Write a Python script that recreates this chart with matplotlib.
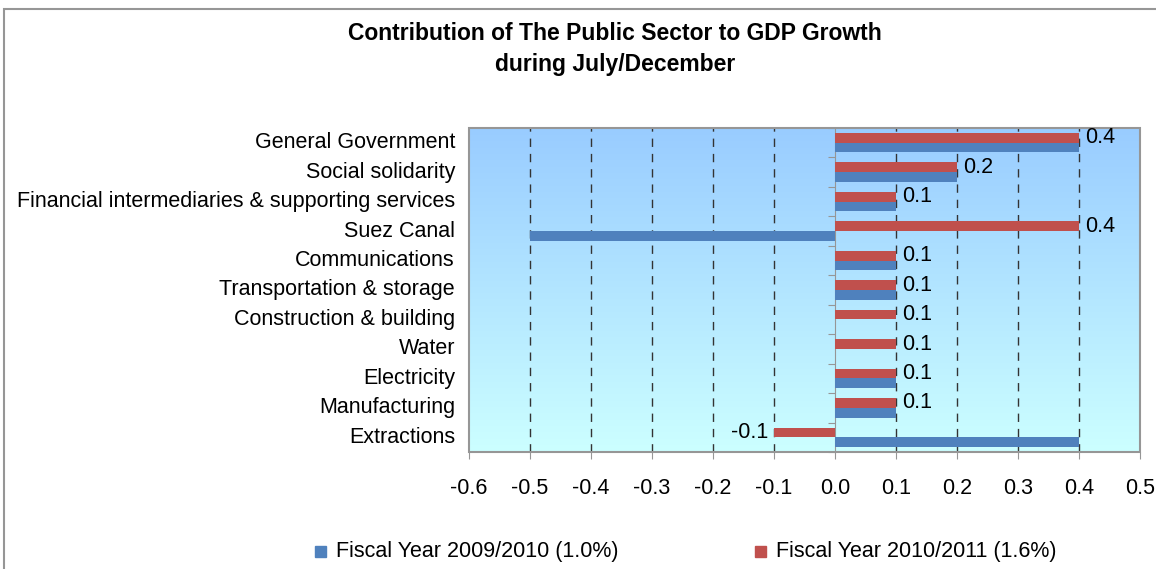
import numpy as np
import matplotlib.pyplot as plt
from matplotlib.patches import Rectangle
from matplotlib.transforms import blended_transform_factory
from matplotlib.colors import LinearSegmentedColormap

plt.rcParams['font.family'] = ['Liberation Sans', 'DejaVu Sans']

# sectors, top to bottom
sectors = ["General Government", "Social solidarity",
           "Financial intermediaries & supporting services", "Suez Canal",
           "Communications", "Transportation & storage", "Construction & building",
           "Water", "Electricity", "Manufacturing", "Extractions"]
fy_2009 = [0.4, 0.2, 0.1, -0.5, 0.1, 0.1, 0.0, 0.0, 0.1, 0.1, 0.4]
fy_2010 = [0.4, 0.2, 0.1, 0.4, 0.1, 0.1, 0.1, 0.1, 0.1, 0.1, -0.1]
x_ticks = [-0.6, -0.5, -0.4, -0.3, -0.2, -0.1, 0.0, 0.1, 0.2, 0.3, 0.4, 0.5]

BLUE = '#4F81BD'
RED = '#C0504D'
GRAY = '#969696'
FS = 15.5

fig = plt.figure(figsize=(11.56, 5.69), dpi=100)
ax = fig.add_axes([469 / 1156, 1 - 452 / 569, 671 / 1156, 324 / 569])

# outer chart frame (runs off the right and bottom edge)
fig.patches.append(Rectangle((4 / 1156, -0.1), 1.2, 1 - 9 / 569 + 0.1,
                             transform=fig.transFigure, fill=False,
                             edgecolor=GRAY, linewidth=1.5))

# gradient fill of the plot area
cmap = LinearSegmentedColormap.from_list('bg', ['#99CCFF', '#CCFFFF'])
grad = np.linspace(0, 1, 256).reshape(-1, 1)
ax.imshow(grad, cmap=cmap, aspect='auto', extent=[0, 1, 0, 1],
          transform=ax.transAxes, zorder=0)

n = len(sectors)
y = np.arange(n)
h = 0.33
ax.barh(y - h / 2, fy_2010, height=h, color=RED, zorder=3)
ax.barh(y + h / 2, fy_2009, height=h, color=BLUE, zorder=3)

ax.set_xlim(x_ticks[0], x_ticks[-1])
ax.set_ylim(n - 0.5, -0.5)

# dashed gridlines except at the axis and plot edges
for xv in x_ticks[1:-1]:
    if xv != 0.0:
        ax.axvline(xv, color='#333333', linewidth=1, linestyle=(0, (6, 5)), zorder=1)

# value labels for the 2010/2011 series
for yi, v in zip(y, fy_2010):
    if v >= 0:
        ax.text(v + 0.01, yi - h / 2, f"{v:.1f}", ha='left', va='center',
                fontsize=FS, zorder=6, clip_on=False)
    else:
        ax.text(v - 0.01, yi - h / 2, f"{v:.1f}", ha='right', va='center',
                fontsize=FS, zorder=6, clip_on=False)

# category axis sits at zero
for s in ['top', 'right', 'bottom']:
    ax.spines[s].set_visible(False)
ax.spines['left'].set_position(('data', 0))
ax.spines['left'].set_color(GRAY)
ax.spines['left'].set_zorder(2)
ax.set_yticks(np.arange(n + 1) - 0.5)
ax.set_yticklabels([])
ax.tick_params(axis='y', length=5, color=GRAY, direction='out')
ax.add_patch(Rectangle((0, 0), 1, 1, transform=ax.transAxes, fill=False,
                       edgecolor=GRAY, linewidth=1.5, zorder=5, clip_on=False))

trans = blended_transform_factory(ax.transAxes, ax.transData)
for yi, name in zip(y, sectors):
    ax.text(-0.021, yi, name, transform=trans, ha='right', va='center', fontsize=FS)

ax.set_xticks(x_ticks)
ax.set_xticklabels([f"{v:.1f}" for v in x_ticks], fontsize=FS)
ax.tick_params(axis='x', length=5, color=GRAY, pad=14)

fig.text(615 / 1156, 1 - 33 / 569, "Contribution of The Public Sector to GDP Growth",
         ha='center', va='center', fontsize=16.5, fontweight='bold')
fig.text(615 / 1156, 1 - 65 / 569, "during July/December",
         ha='center', va='center', fontsize=16.5, fontweight='bold')

# legend
for lx, col, lab in [(320, BLUE, "Fiscal Year 2009/2010 (1.0%)"),
                     (760, RED, "Fiscal Year 2010/2011 (1.6%)")]:
    fig.patches.append(Rectangle(((lx - 5) / 1156, 1 - 557 / 569), 11 / 1156, 11 / 569,
                                 transform=fig.transFigure, color=col))
    fig.text((lx + 16) / 1156, 1 - 551 / 569, lab, ha='left', va='center', fontsize=FS)

fig.savefig('out.png', dpi=100)
